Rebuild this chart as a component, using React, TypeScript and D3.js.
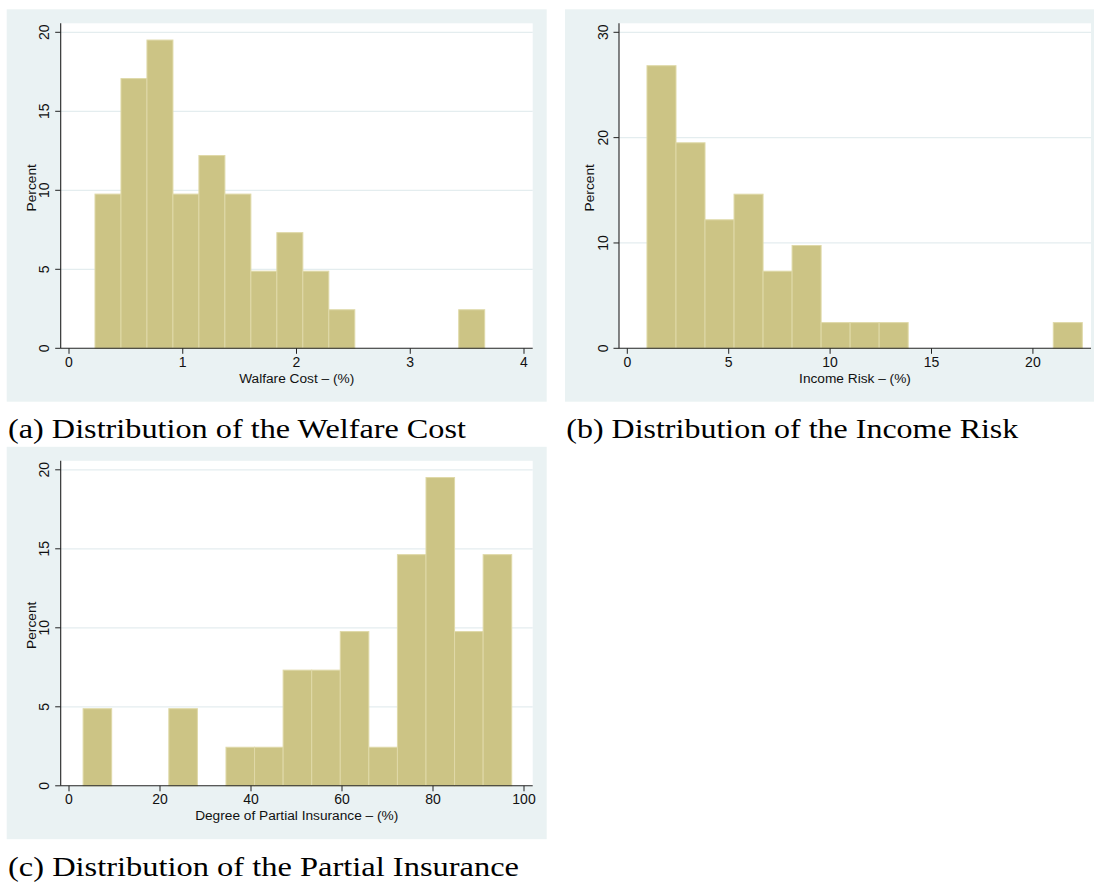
import React, { useEffect, useRef } from 'react';
import * as d3 from 'd3';

// Histogram (a): welfare cost, percent of observations per bin
const welfareBinStart = 0.2285;
const welfareBinWidth = 0.2284;
const welfarePercent = [9.76, 17.07, 19.51, 9.76, 12.2, 9.76, 4.88, 7.32, 4.88, 2.44, 0, 0, 0, 0, 2.44];
const welfareXTicks = [0, 1, 2, 3, 4];
const welfareYTicks = [0, 5, 10, 15, 20];

// Histogram (b): income risk
const incomeBinStart = 0.97;
const incomeBinWidth = 1.431;
const incomePercent = [26.83, 19.51, 12.2, 14.63, 7.32, 9.76, 2.44, 2.44, 2.44, 0, 0, 0, 0, 0, 2.44];
const incomeXTicks = [0, 5, 10, 15, 20];
const incomeYTicks = [0, 10, 20, 30];

// Histogram (c): degree of partial insurance
const insuranceBinStart = 3.1;
const insuranceBinWidth = 6.28;
const insurancePercent = [4.88, 0, 0, 4.88, 0, 2.44, 2.44, 7.32, 7.32, 9.76, 2.44, 14.63, 19.51, 9.76, 14.63];
const insuranceXTicks = [0, 20, 40, 60, 80, 100];
const insuranceYTicks = [0, 5, 10, 15, 20];

const xTitles = ['Walfare Cost \u2013 (%)', 'Income Risk \u2013 (%)', 'Degree of Partial Insurance \u2013 (%)'];
const captions = [
  '(a) Distribution of the Welfare Cost',
  '(b) Distribution of the Income Risk',
  '(c) Distribution of the Partial Insurance',
];

interface PanelSpec {
  binStart: number;
  binWidth: number;
  percent: number[];
  xTicks: number[];
  yTicks: number[];
  xTitle: string;
  caption: string;
  captionWidth: number;
  ox: number;
  oy: number;
}

const panels: PanelSpec[] = [
  { binStart: welfareBinStart, binWidth: welfareBinWidth, percent: welfarePercent, xTicks: welfareXTicks, yTicks: welfareYTicks, xTitle: xTitles[0], caption: captions[0], captionWidth: 458, ox: 0, oy: 0 },
  { binStart: incomeBinStart, binWidth: incomeBinWidth, percent: incomePercent, xTicks: incomeXTicks, yTicks: incomeYTicks, xTitle: xTitles[1], caption: captions[1], captionWidth: 452, ox: 558.3, oy: 0 },
  { binStart: insuranceBinStart, binWidth: insuranceBinWidth, percent: insurancePercent, xTicks: insuranceXTicks, yTicks: insuranceYTicks, xTitle: xTitles[2], caption: captions[2], captionWidth: 511, ox: 0, oy: 437.5 },
];

const W = 1094;
const H = 882;
const BG = '#EAF2F3';
const GRID = '#E4EDEF';
const BAR_FILL = '#CCC485';
const BAR_STROKE = '#DFD9A8';
const SANS = '"Liberation Sans", Arial, Helvetica, sans-serif';
const SERIF = '"Liberation Serif", "Times New Roman", serif';

// panel-local layout
const bgBox = { x0: 6.7, x1: 546.7, y0: 9.3, y1: 401.7 };
const plotBox = { x0: 60.7, x1: 532.7, y0: 23.3, y1: 348.3 };
const xRange: [number, number] = [69, 524];
const yRange: [number, number] = [348.3, 32.3];

function drawPanel(root: d3.Selection<SVGGElement, unknown, null, undefined>, p: PanelSpec) {
  const g = root.append('g').attr('transform', `translate(${p.ox},${p.oy})`);

  const bins = p.percent.map((v, i) => ({
    x0: p.binStart + i * p.binWidth,
    x1: p.binStart + (i + 1) * p.binWidth,
    v,
  }));
  const xMax = Math.max(d3.max(p.xTicks) as number, bins[bins.length - 1].x1);
  const x = d3.scaleLinear().domain([0, xMax]).range(xRange);
  const y = d3.scaleLinear().domain([0, d3.max(p.yTicks) as number]).range(yRange);

  g.append('rect')
    .attr('x', bgBox.x0).attr('y', bgBox.y0)
    .attr('width', bgBox.x1 - bgBox.x0).attr('height', bgBox.y1 - bgBox.y0)
    .attr('fill', BG);
  g.append('rect')
    .attr('x', plotBox.x0).attr('y', plotBox.y0)
    .attr('width', plotBox.x1 - plotBox.x0).attr('height', plotBox.y1 - plotBox.y0)
    .attr('fill', '#FFFFFF');

  // horizontal grid
  g.append('g').selectAll('line')
    .data(p.yTicks.filter((t) => t !== 0))
    .join('line')
    .attr('x1', plotBox.x0).attr('x2', plotBox.x1)
    .attr('y1', (d) => y(d)).attr('y2', (d) => y(d))
    .attr('stroke', GRID).attr('stroke-width', 1.2);

  // bars
  g.append('g').selectAll('rect')
    .data(bins.filter((b) => b.v > 0))
    .join('rect')
    .attr('x', (d) => x(d.x0))
    .attr('width', (d) => x(d.x1) - x(d.x0))
    .attr('y', (d) => y(d.v))
    .attr('height', (d) => y(0) - y(d.v))
    .attr('fill', BAR_FILL)
    .attr('stroke', BAR_STROKE)
    .attr('stroke-width', 1);

  // axes lines
  g.append('line')
    .attr('x1', plotBox.x0).attr('x2', plotBox.x0)
    .attr('y1', plotBox.y0).attr('y2', plotBox.y1)
    .attr('stroke', '#222').attr('stroke-width', 1.1);
  g.append('line')
    .attr('x1', plotBox.x0).attr('x2', plotBox.x1)
    .attr('y1', plotBox.y1).attr('y2', plotBox.y1)
    .attr('stroke', '#222').attr('stroke-width', 1.1);

  // y ticks
  const yt = g.append('g');
  yt.selectAll('line')
    .data(p.yTicks)
    .join('line')
    .attr('x1', plotBox.x0 - 5.5).attr('x2', plotBox.x0)
    .attr('y1', (d) => y(d)).attr('y2', (d) => y(d))
    .attr('stroke', '#222').attr('stroke-width', 1);
  yt.selectAll('text')
    .data(p.yTicks)
    .join('text')
    .attr('transform', (d) => `translate(49.3,${y(d)}) rotate(-90)`)
    .attr('text-anchor', 'middle')
    .attr('font-family', SANS)
    .attr('font-size', 14)
    .attr('fill', '#111')
    .text((d) => String(d));

  // x ticks
  const xt = g.append('g');
  xt.selectAll('line')
    .data(p.xTicks)
    .join('line')
    .attr('x1', (d) => x(d)).attr('x2', (d) => x(d))
    .attr('y1', plotBox.y1).attr('y2', plotBox.y1 + 5.5)
    .attr('stroke', '#222').attr('stroke-width', 1);
  xt.selectAll('text')
    .data(p.xTicks)
    .join('text')
    .attr('x', (d) => x(d))
    .attr('y', 366.6)
    .attr('text-anchor', 'middle')
    .attr('font-family', SANS)
    .attr('font-size', 14)
    .attr('fill', '#111')
    .text((d) => String(d));

  // axis titles
  g.append('text')
    .attr('x', (plotBox.x0 + plotBox.x1) / 2)
    .attr('y', 382.5)
    .attr('text-anchor', 'middle')
    .attr('font-family', SANS)
    .attr('font-size', 13.7)
    .attr('fill', '#111')
    .text(p.xTitle);
  g.append('text')
    .attr('transform', `translate(35.5,${(plotBox.y0 + plotBox.y1) / 2 + 2}) rotate(-90)`)
    .attr('text-anchor', 'middle')
    .attr('font-family', SANS)
    .attr('font-size', 13.7)
    .attr('fill', '#111')
    .text('Percent');

  // caption below the panel
  g.append('text')
    .attr('x', 8)
    .attr('y', 438)
    .attr('font-family', SERIF)
    .attr('font-size', 28)
    .attr('fill', '#000')
    .attr('textLength', p.captionWidth)
    .attr('lengthAdjust', 'spacingAndGlyphs')
    .text(p.caption);
}

export default function App() {
  const ref = useRef<SVGSVGElement | null>(null);

  useEffect(() => {
    const svg = d3.select(ref.current);
    svg.selectAll('*').remove();
    const root = svg.append('g');
    panels.forEach((p) => drawPanel(root as any, p));
  }, []);

  return (
    <svg
      ref={ref}
      width={W}
      height={H}
      viewBox={`0 0 ${W} ${H}`}
      style={{ position: 'absolute', left: 0, top: 0, background: '#FFFFFF', display: 'block' }}
    />
  );
}
